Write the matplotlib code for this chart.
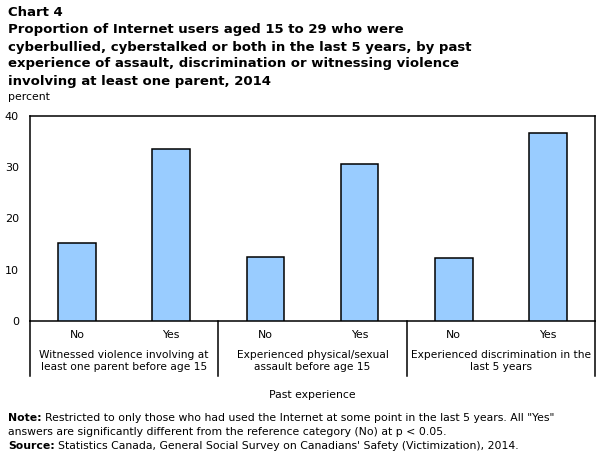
import numpy as np
import matplotlib.pyplot as plt
from matplotlib.lines import Line2D

groups = ["Witnessed violence involving at\nleast one parent before age 15",
          "Experienced physical/sexual\nassault before age 15",
          "Experienced discrimination in the\nlast 5 years"]
answers = ["No", "Yes"]
values = [15.2, 33.6, 12.5, 30.7, 12.3, 36.7]

title_lines = ["Proportion of Internet users aged 15 to 29 who were",
               "cyberbullied, cyberstalked or both in the last 5 years, by past",
               "experience of assault, discrimination or witnessing violence",
               "involving at least one parent, 2014"]

W, H = 605, 455
plt.rcParams['font.family'] = ['DejaVu Sans']
fig = plt.figure(figsize=(W / 100, H / 100), dpi=100)

# plot box in pixel coords
x0, x1, ytop, ybot = 30, 595, 116, 321
ax = fig.add_axes([x0 / W, 1 - ybot / H, (x1 - x0) / W, (ybot - ytop) / H])

def fy(py):
    # pixel row -> axes fraction
    return (ybot - py) / (ybot - ytop)

n = len(values)
x = np.arange(n)
ax.bar(x, values, width=0.4, color="#99ccff", edgecolor="black", linewidth=1.1, zorder=3)
ax.set_xlim(-0.5, n - 0.5)
ax.set_ylim(0, 40)
ax.set_yticks([0, 10, 20, 30, 40])
ax.tick_params(axis="y", length=0, labelsize=8, pad=8)
ax.set_xticks([])
for s in ax.spines.values():
    s.set_linewidth(1.1)

trans = ax.get_xaxis_transform()
for i in range(n):
    ax.text(i, fy(335), answers[i % 2], transform=trans, ha="center", va="center", fontsize=7.8)
for g, label in enumerate(groups):
    ax.text(2 * g + 0.5, fy(361), label, transform=trans, ha="center", va="center",
            fontsize=7.7, linespacing=1.3)
# group separators
for xs in [-0.5, 1.5, 3.5, 5.5]:
    ax.add_line(Line2D([xs, xs], [0, fy(376)], transform=trans,
                       color="black", linewidth=1.1, clip_on=False))

ax.text(0.5, fy(395), "Past experience", transform=ax.transAxes,
        ha="center", va="center", fontsize=7.8)

fig.text(8 / W, 1 - 12 / H, "Chart 4", fontsize=9.5, fontweight="bold", va="center")
for k, line in enumerate(title_lines):
    fig.text(8 / W, 1 - (30 + 17 * k) / H, line, fontsize=9.5, fontweight="bold", va="center")
fig.text(8 / W, 1 - 97 / H, "percent", fontsize=7.8, va="center")

# footnotes: bold lead-in followed by regular text
renderer = fig.canvas.get_renderer()
def footnote(py, lead, rest):
    y = 1 - py / H
    xpos = 8 / W
    if lead:
        t = fig.text(xpos, y, lead, fontsize=7.8, fontweight="bold", va="center")
        bb = t.get_window_extent(renderer)
        xpos = (bb.x1 + 3) / W
    fig.text(xpos, y, rest, fontsize=7.8, va="center")

footnote(418, "Note:", "Restricted to only those who had used the Internet at some point in the last 5 years. All \"Yes\"")
footnote(432, "", "answers are significantly different from the reference category (No) at p < 0.05.")
footnote(446, "Source:", "Statistics Canada, General Social Survey on Canadians' Safety (Victimization), 2014.")

fig.savefig("out.png", dpi=100)
